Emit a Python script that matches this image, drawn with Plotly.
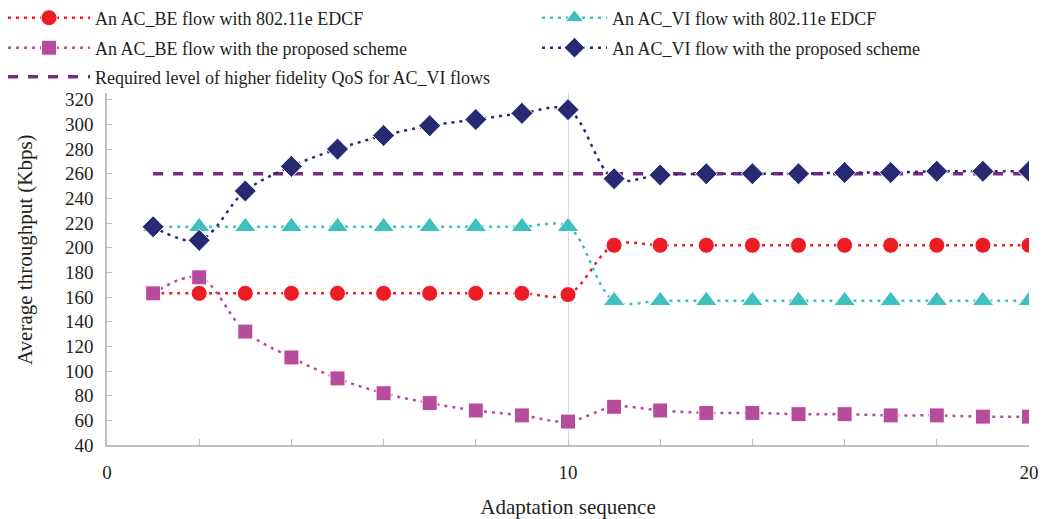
import plotly.graph_objects as go

seq = list(range(1, 21))
be_edcf = [163, 163, 163, 163, 163, 163, 163, 163, 163, 162,
           202, 202, 202, 202, 202, 202, 202, 202, 202, 202]
vi_edcf = [217, 217, 217, 217, 217, 217, 217, 217, 217, 217,
           157, 157, 157, 157, 157, 157, 157, 157, 157, 157]
be_prop = [163, 176, 132, 111, 94, 82, 74, 68, 64, 59,
           71, 68, 66, 66, 65, 65, 64, 64, 63, 63]
vi_prop = [217, 206, 246, 266, 280, 291, 299, 304, 309, 312,
           256, 259, 260, 260, 260, 261, 261, 262, 262, 262]
qos_x = [1, 20]
qos_y = [260, 260]

names = ["An AC_BE flow with 802.11e EDCF",
         "An AC_VI flow with 802.11e EDCF",
         "An AC_BE flow with the proposed scheme",
         "An AC_VI flow with the proposed scheme",
         "Required level of higher fidelity QoS for AC_VI flows"]

FONT = "Liberation Serif, Times New Roman, serif"
TXT = "#231F20"
W, H = 1042, 519
L, R, T, B = 107, 13, 93, 74

fig = go.Figure()

fig.add_trace(go.Scatter(
    x=qos_x, y=qos_y, name=names[4], mode="lines", legend="legend5",
    line=dict(color="#7B2A82", width=3.5, dash="10px,10px"),
))

def add_series(y, name, color, symbol, size, leg):
    fig.add_trace(go.Scatter(
        x=seq, y=y, name=name, mode="lines+markers", legend=leg,
        line=dict(color=color, width=2.5, dash="3px,5px", shape="spline", smoothing=1),
        marker=dict(symbol=symbol, size=size, color=color, line=dict(color="white", width=1)),
    ))

add_series(be_edcf, names[0], "#ED1C24", "circle", 16, "legend")
add_series(vi_edcf, names[1], "#40BFBF", "triangle-up", 19, "legend2")
add_series(be_prop, names[2], "#B84C9C", "square", 15, "legend3")
add_series(vi_prop, names[3], "#262A73", "diamond", 17, "legend4")

def leg(xpx, cy, iw):
    return dict(
        orientation="h", xref="container", yref="container",
        x=xpx / W, y=1 - cy / H, xanchor="left", yanchor="middle",
        itemwidth=iw, font=dict(family=FONT, size=18, color=TXT),
        bgcolor="rgba(0,0,0,0)",
    )

fig.update_layout(
    width=W, height=H,
    margin=dict(l=L, r=R, t=T, b=B, autoexpand=False),
    paper_bgcolor="white", plot_bgcolor="white",
    font=dict(family=FONT, size=18, color=TXT),
    showlegend=True,
    legend=leg(3, 18, 82),
    legend2=leg(537, 18, 65),
    legend3=leg(3, 48, 82),
    legend4=leg(537, 48, 65),
    legend5=leg(3, 77, 82),
    annotations=[dict(
        text="Average throughput (Kbps)", textangle=-90,
        xref="paper", yref="paper",
        x=(25 - L) / (W - L - R), y=(H - B - 250) / (H - T - B),
        xanchor="center", yanchor="middle", showarrow=False,
        font=dict(family=FONT, size=21, color=TXT),
    )],
)

fig.update_xaxes(
    range=[0, 20], tickmode="array", tickvals=[0, 10, 20], ticktext=["0", "10", "20"],
    ticks="inside", ticklen=6, tickcolor="#BFBFBF",
    showline=True, linecolor="#BFBFBF", linewidth=1.5,
    showgrid=True, gridcolor="#D9D9D9", gridwidth=1,
    zeroline=False, ticklabelstandoff=9, tickfont=dict(size=19),
    minor=dict(dtick=2, ticks="inside", ticklen=6, tickcolor="#BFBFBF", showgrid=False),
    title=dict(text="Adaptation sequence", font=dict(family=FONT, size=21, color=TXT), standoff=27),
)
fig.update_yaxes(
    range=[40, 325.5], tickmode="array", tickvals=list(range(40, 321, 20)),
    ticks="inside", ticklen=5, tickcolor="#BFBFBF",
    showline=True, linecolor="#BFBFBF", linewidth=1.5,
    showgrid=False, zeroline=False, ticklabelstandoff=8, tickfont=dict(size=19),
)

fig.write_html("out.html", config={"displayModeBar": False},
               post_script="document.body.style.margin='0';")
